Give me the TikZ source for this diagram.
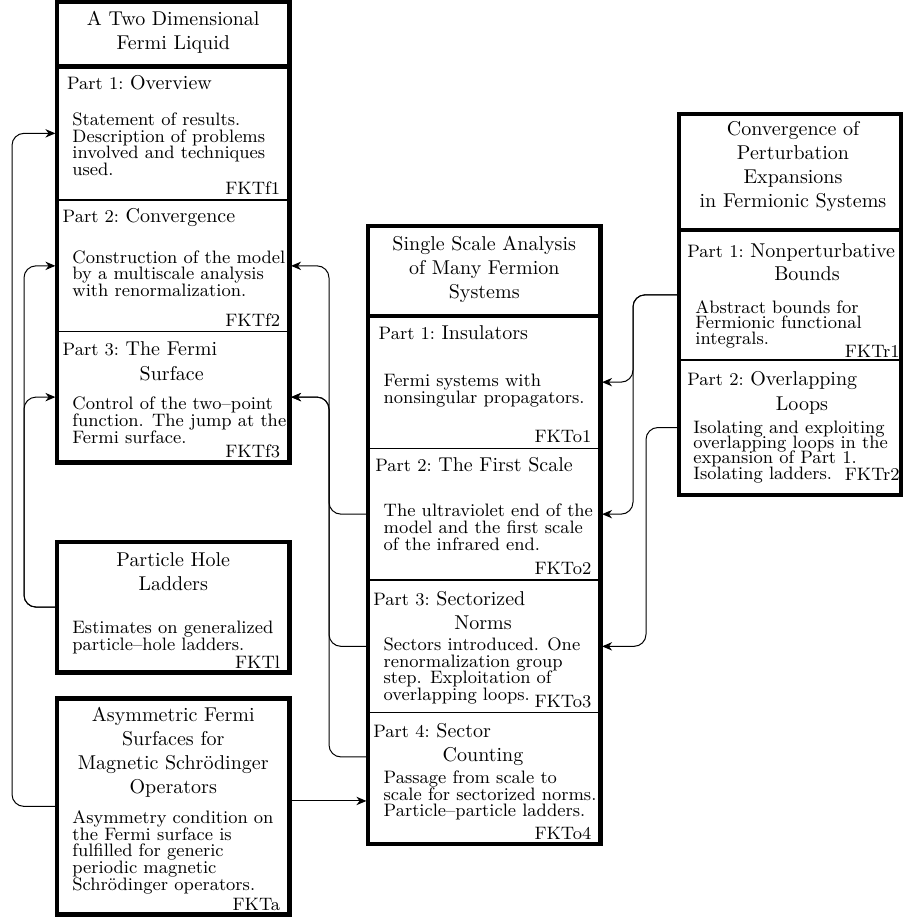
\documentclass[tikz,border=0pt]{standalone}
\usetikzlibrary{fit,arrows.meta}
\newcommand\partlbl[1]{{\fontsize{9}{10}\selectfont Part~#1:}\ }
\tikzset{
  conn/.style={line width=0.5pt, rounded corners=6pt, shorten >=0.8pt,
    -{Stealth[length=5pt,width=4.2pt,inset=1.6pt]}},
  frame/.style={line width=2.2pt},
  sepline/.style={line width=0.6pt},
  boxn/.style={inner sep=0pt, outer sep=0pt},
  ttl/.style={font={\fontsize{10}{12}\selectfont}, align=center, anchor=base, inner sep=0pt},
  hd/.style={font={\fontsize{10}{12}\selectfont}, anchor=base west, inner sep=0pt},
  hdc/.style={font={\fontsize{10}{12}\selectfont}, anchor=base, inner sep=0pt},
  bd/.style={font={\fontsize{9}{8.3}\selectfont\lineskiplimit=-10pt}, align=left, anchor=base west, inner sep=0pt},
  bdr/.style={font={\fontsize{9}{7.6}\selectfont\lineskiplimit=-10pt}, align=left, anchor=base west, inner sep=0pt},
  tag/.style={font={\fontsize{9}{10}\selectfont}, anchor=base east, inner sep=0pt},
}
\begin{document}
\begin{tikzpicture}[x=0.5pt,y=-0.5pt]
\useasboundingbox (0,0) rectangle (903,920);

% ---------- boxes ----------
% left column
\node[boxn, fit={(57,2) (289.5,66.7)}] (lt) {};
\node[boxn, fit={(57,66.7) (289.5,200)}] (f1) {};
\node[boxn, fit={(57,200) (289.5,331.7)}] (f2) {};
\node[boxn, fit={(57,331.7) (289.5,462.5)}] (f3) {};
\node[boxn, fit={(57,541.7) (289.5,672.5)}] (phl) {};
\node[boxn, fit={(57,698.3) (289.5,914.5)}] (asym) {};
% centre column
\node[boxn, fit={(368,226) (600.5,316)}] (ct) {};
\node[boxn, fit={(368,316) (600.5,448.3)}] (o1) {};
\node[boxn, fit={(368,448.3) (600.5,580)}] (o2) {};
\node[boxn, fit={(368,580) (600.5,712.7)}] (o3) {};
\node[boxn, fit={(368,712.7) (600.5,844)}] (o4) {};
% right column
\node[boxn, fit={(679,114) (901.5,229.7)}] (rt) {};
\node[boxn, fit={(679,229.7) (901.5,360)}] (r1) {};
\node[boxn, fit={(679,360) (901.5,495)}] (r2) {};

% thin separators
\draw[sepline] (f1.south west) -- (f1.south east);
\draw[sepline] (f2.south west) -- (f2.south east);
\draw[sepline] (o1.south west) -- (o1.south east);
\draw[sepline] (o2.south west) -- (o2.south east);
\draw[sepline] (o3.south west) -- (o3.south east);
\draw[sepline] (r1.south west) -- (r1.south east);

% thick frames
\draw[frame] (lt.north west) rectangle (f3.south east);
\draw[frame] (lt.south west) -- (lt.south east);
\draw[frame] (phl.north west) rectangle (phl.south east);
\draw[frame] (asym.north west) rectangle (asym.south east);
\draw[frame] (ct.north west) rectangle (o4.south east);
\draw[frame] (ct.south west) -- (ct.south east);
\draw[frame] (rt.north west) rectangle (r2.south east);
\draw[frame] (rt.south west) -- (rt.south east);

% ---------- texts: left column (multi-line nodes placed at last baseline) ----------
\node[ttl] (ltT) at (173.25,50) {A Two Dimensional\\Fermi Liquid};
\node[hd] (f1H) at (66.7,90) {\partlbl{1}Overview};
\node[bd] (f1B) at (72,175.5) {Statement of results.\\Description of problems\\involved and techniques\\used.};
\node[tag] (f1T) at (280.5,194) {FKTf1};
\node[hd] (f2H) at (62.3,222.7) {\partlbl{2}Convergence};
\node[bd] (f2B) at (72,296.5) {Construction of the model\\by a multiscale analysis\\with renormalization.};
\node[tag] (f2T) at (280.5,326) {FKTf2};
\node[hd] (f3H) at (62.3,355) {\partlbl{3}The Fermi};
\node[hdc] (f3H2) at (171.7,380) {Surface};
\node[bd] (f3B) at (72,443) {Control of the two--point\\function. The jump at the\\Fermi surface.};
\node[tag] (f3T) at (280.5,457) {FKTf3};

\node[ttl] (phlT) at (173.25,590) {Particle Hole\\Ladders};
\node[bd] (phlB) at (72,650) {Estimates on generalized\\particle--hole ladders.};
\node[tag] (phlG) at (280.5,668) {FKTl};

\node[ttl] (asT) at (173.25,793) {Asymmetric Fermi\\Surfaces for\\Magnetic Schrödinger\\Operators};
\node[bd] (asB) at (72,890) {Asymmetry condition on\\the Fermi surface is\\fulfilled for generic\\periodic magnetic\\Schrödinger operators.};
\node[tag] (asG) at (280.5,910) {FKTa};

% ---------- texts: centre column ----------
\node[ttl] (ctT) at (484.25,298.5) {Single Scale Analysis\\of Many Fermion\\Systems};
\node[hd] (o1H) at (378.3,339) {\partlbl{1}Insulators};
\node[bd] (o1B) at (383.3,403.3) {Fermi systems with\\nonsingular propagators.};
\node[tag] (o1T) at (591.7,442.7) {FKTo1};
\node[hd] (o2H) at (375,471.7) {\partlbl{2}The First Scale};
\node[bd] (o2B) at (383.3,550) {The ultraviolet end of the\\model and the first scale\\of the infrared end.};
\node[tag] (o2T) at (591.7,574) {FKTo2};
\node[hd] (o3H) at (373,605) {\partlbl{3}Sectorized};
\node[hdc] (o3H2) at (483,629) {Norms};
\node[bd] (o3B) at (383.3,700.5) {Sectors introduced. One\\renormalization group\\step. Exploitation of\\overlapping loops.};
\node[tag] (o3T) at (591.7,707.3) {FKTo3};
\node[hd] (o4H) at (373,737) {\partlbl{4}Sector};
\node[hdc] (o4H2) at (483,761) {Counting};
\node[bd] (o4B) at (383.3,816.7) {Passage from scale to\\scale for sectorized norms.\\Particle--particle ladders.};
\node[tag] (o4T) at (591.7,839) {FKTo4};

% ---------- texts: right column ----------
\node[ttl] (rtT) at (793,207) {Convergence of\\Perturbation\\Expansions\\in Fermionic Systems};
\node[hd] (r1H) at (687,257) {\partlbl{1}Nonperturbative};
\node[hdc] (r1H2) at (807,280) {Bounds};
\node[bdr] (r1B) at (695,344) {Abstract bounds for\\Fermionic functional\\integrals.};
\node[tag] (r1T) at (900,357) {FKTr1};
\node[hd] (r2H) at (687,385) {\partlbl{2}Overlapping};
\node[hdc] (r2H2) at (802,410) {Loops};
\node[bdr] (r2B) at (693,479) {Isolating and exploiting\\overlapping loops in the\\expansion of Part 1.\\Isolating ladders.};
\node[tag] (r2T) at (900,480) {FKTr2};

% ---------- connectors ----------
\draw[conn] (asym.west) -- ++(-45,0) |- (f1.west);
\draw[conn] (phl.west) -- ++(-33,0) |- (f2.west);
\draw[conn] (phl.west) -- ++(-33,0) |- (f3.west);

\draw[conn] (o2.west) -- ++(-39,0) |- (f2.east);
\draw[conn] (o3.west) -- ++(-39,0) |- (f3.east);
\coordinate (o4out) at ([yshift=10.7pt]o4.west);
\draw[conn] (o4out) -- ++(-39,0) |- (f3.east);

\coordinate (o4in) at ([yshift=-11.3pt]o4.west);
\draw[conn] (asym.east |- o4in) -- (o4in);

\draw[conn] (r1.west) -- ++(-46,0) |- (o1.east);
\draw[conn] (r1.west) -- ++(-46,0) |- (o2.east);
\draw[conn] (r2.west) -- ++(-33,0) |- (o3.east);
\end{tikzpicture}
\end{document}
